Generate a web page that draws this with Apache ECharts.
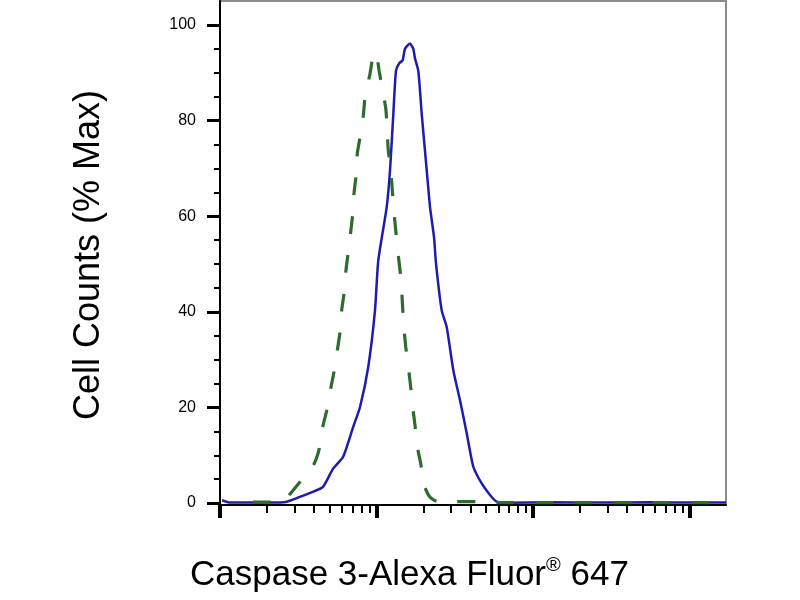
<!DOCTYPE html>
<html>
<head>
<meta charset="utf-8">
<script src="https://cdn.jsdelivr.net/npm/echarts@6/dist/echarts.min.js"></script>
<style>html,body{margin:0;padding:0;background:#fff}#c{width:800px;height:600px}</style>
</head>
<body>
<div id="c"></div>
<script>
// Fluorescence intensity (log scale) vs. cell counts (% of max)
const stainedCurve = [
  [1.03,0.6],[1.16,0.1],[2.09,0.1],[2.67,0.3],[3.24,1.3],[3.95,2.4],[4.55,3.4],[5.28,7.2],
  [6.12,9.7],[7.09,15.9],[7.85,20.1],[8.86,28.5],[9.78,40.3],[10.27,50.8],[11.62,61.9],
  [12.20,69.6],[12.81,81.4],[13.32,90.4],[13.99,92.0],[14.70,92.6],[15.21,95.0],[16.37,96.1],
  [17.18,95.0],[17.62,93.0],[18.50,90.4],[19.45,81.4],[20.94,69.6],[21.98,61.9],[23.31,55.6],
  [24.00,50.1],[26.10,40.3],[28.10,36.8],[30.96,27.8],[34.17,21.5],[37.71,14.6],[41.56,7.6],
  [47.00,4.1],[53.12,1.7],[58.64,0.3],[71.29,0.05],[128,0.15],[268,0.1],[559,0.15],[1167,0.1],[1711,0.1]
];
const controlCurve = [
  [1.625,0.2],[2.09,0.2],[2.60,0.5],[2.77,1.7],[3.24,4.4],[3.95,7.9],[4.31,11.4],[4.53,15.9],
  [4.81,19.4],[5.10,24.0],[5.35,27.4],[5.62,32.0],[5.85,35.8],[5.99,40.3],[6.20,43.8],[6.38,48.7],
  [6.60,52.5],[6.84,56.7],[7.05,60.5],[7.18,64.7],[7.40,68.5],[7.54,73.1],[7.85,76.5],[8.24,81.1],
  [8.45,84.9],[9.09,89.8],[9.45,93.1],[9.78,94.3],[10.03,93.8],[10.42,90.2],[11.05,85.6],[11.50,82.1],
  [11.72,77.2],[11.90,73.7],[12.38,68.9],[12.62,65.4],[12.94,60.9],[13.27,57.0],[13.66,52.9],
  [13.99,50.0],[14.28,47.3],[14.49,44.5],[14.70,40.7],[14.99,36.5],[15.37,32.7],[15.97,28.5],
  [16.54,24.3],[17.03,20.1],[17.62,16.3],[18.23,11.8],[19.16,8.3],[20.12,3.8],[21.65,1.5],
  [23.31,0.6],[25.46,0.2],[31.74,0.3],[42.6,0.3],[61.5,0.1],[1711,0.1]
];
const yTickLabels = [0, 20, 40, 60, 80, 100];
const yMinorTicks = [5,10,15,25,30,35,45,50,55,65,70,75,85,90,95];
const xMajorTicks = [1, 10, 100, 1000];
const xMinorTicks = [2,3,4,5,6,7,8,9,20,30,40,50,60,70,80,90,200,300,400,500,600,700,800,900];

const X_MIN = 1, X_MAX = 1711, Y_MIN = -0.4, Y_MAX = 105;
const font = 'Arial, "Liberation Sans", sans-serif';

const chart = echarts.init(document.getElementById('c'), null, {renderer: 'canvas'});
chart.setOption({
  animation: false,
  backgroundColor: '#fff',
  grid: {left: 220, right: 74, top: 1, bottom: 95, show: true, borderColor: '#8c8c8c', borderWidth: 2, backgroundColor: '#fff'},
  xAxis: [
    {type: 'log', min: X_MIN, max: X_MAX, position: 'bottom',
     axisLine: {show: true, onZero: false, lineStyle: {color: '#000', width: 2}},
     axisTick: {show: true, customValues: xMajorTicks, length: 13, lineStyle: {color: '#000', width: 4}},
     axisLabel: {show: false}, splitLine: {show: false}, minorTick: {show: false}},
    {type: 'log', min: X_MIN, max: X_MAX, position: 'bottom',
     axisLine: {show: false, onZero: false},
     axisTick: {show: true, customValues: xMinorTicks, length: 8, lineStyle: {color: '#000', width: 2}},
     axisLabel: {show: false}, splitLine: {show: false}}
  ],
  yAxis: [
    {type: 'value', min: Y_MIN, max: Y_MAX, position: 'left',
     axisLine: {show: true, onZero: false, lineStyle: {color: '#000', width: 2}},
     axisTick: {show: true, customValues: yTickLabels, length: 13, lineStyle: {color: '#000', width: 3}},
     axisLabel: {show: true, customValues: yTickLabels, margin: 24, color: '#000', fontSize: 16, fontFamily: font},
     splitLine: {show: false}},
    {type: 'value', min: Y_MIN, max: Y_MAX, position: 'left',
     axisLine: {show: false, onZero: false},
     axisTick: {show: true, customValues: yMinorTicks, length: 6, lineStyle: {color: '#000', width: 2}},
     axisLabel: {show: false}, splitLine: {show: false}}
  ],
  series: [
    {type: 'line', name: 'Caspase 3', data: stainedCurve, xAxisIndex: 0, yAxisIndex: 0,
     showSymbol: false, smooth: 0.2,
     lineStyle: {color: '#1c1cb0', width: 2.5}},
    {type: 'line', name: 'Control', data: controlCurve, xAxisIndex: 0, yAxisIndex: 0,
     showSymbol: false, smooth: 0.2,
     lineStyle: {color: '#2e6b2e', width: 3.2, type: [18, 21]}}
  ],
  graphic: [
    {type: 'text', x: 89, y: 255, rotation: Math.PI / 2,
     style: {text: 'Cell Counts (% Max)', fill: '#000', font: '36px ' + font, textAlign: 'center', textVerticalAlign: 'middle'}},
    {type: 'text', x: 190, y: 575,
     style: {text: '{a|Caspase 3-Alexa Fluor}{s|®}{a| 647}', fill: '#000', textVerticalAlign: 'middle',
       rich: {a: {fontSize: 35, fontFamily: font, lineHeight: 40, verticalAlign: 'middle'},
              s: {fontSize: 20, fontFamily: font, lineHeight: 40, verticalAlign: 'top'}}}}
  ]
});
</script>
</body>
</html>
